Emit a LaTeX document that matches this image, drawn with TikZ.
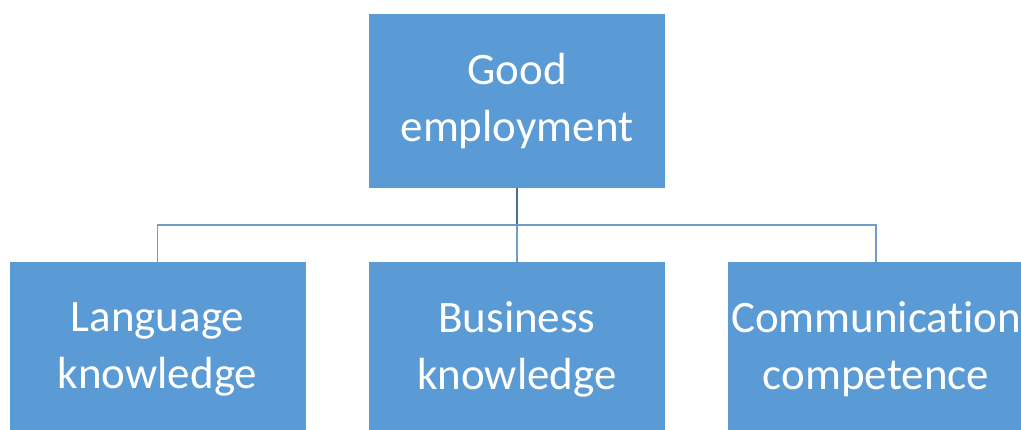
\documentclass[tikz,border=0pt]{standalone}
\usepackage{fontspec}
\setmainfont{Carlito}[Ligatures={NoCommon}]
\definecolor{boxblue}{HTML}{5B9BD5}
\definecolor{linedark}{HTML}{46709A}
\definecolor{linelight}{HTML}{6F9CCB}
\begin{document}
\begin{tikzpicture}[x=1pt,y=1pt,
  box/.style={fill=boxblue, draw=none, minimum width=296pt, minimum height=174pt,
    inner sep=0pt, align=center, text=white,
    font=\fontsize{45}{57}\selectfont},
  conn/.style={draw=linelight, line width=1.1pt},
  conntop/.style={draw=linedark, line width=1.3pt}]
\useasboundingbox (0,0) rectangle (1021,430);
\clip (0,0) rectangle (1021,430);
\node[box] (top) at (517,329) {Good\\employment};
\node[box] (lang) at (157.5,81) {Language\\knowledge};
\node[box] (bus) at (517,81) {Business\\knowledge};
\node[box] (comm) at (876,81) {Communication\\competence};
\coordinate (j) at (517,205);
\draw[conntop] (top.south) -- (j);
\draw[conn] (lang.north) |- (j) -| (comm.north);
\draw[conn] (j) -- (bus.north);
\end{tikzpicture}
\end{document}
